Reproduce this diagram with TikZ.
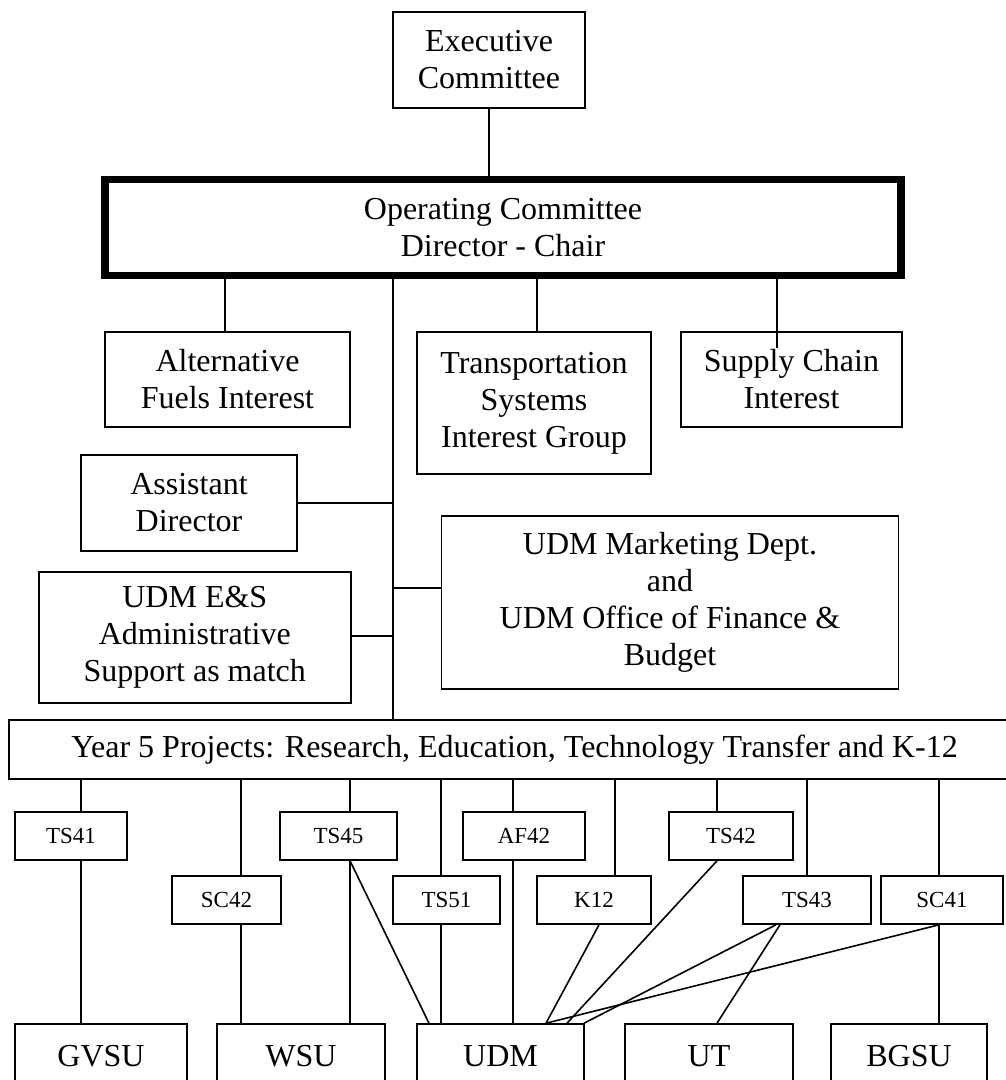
\documentclass[tikz,border=0pt]{standalone}
\usepackage{fontspec}
\setmainfont{Liberation Serif}
\begin{document}
\begin{tikzpicture}[x=1pt,y=-1pt,
  box/.style={draw,line width=1.6pt,inner sep=0pt,align=center,font=\fontsize{32}{37}\selectfont},
  sbox/.style={draw,line width=1.6pt,inner sep=0pt,minimum height=48,font=\fontsize{23}{27}\selectfont},
  conn/.style={line width=1.6pt}]
\useasboundingbox (0,0) rectangle (1006,1080);
% upper part
\node[box,minimum width=192,minimum height=96] (exec) at (489,60) {Executive\\Committee};
\node[box,line width=7.5pt,minimum width=796,minimum height=96] (op) at (503,227.5) {Operating Committee\\Director - Chair};
\node[box,minimum width=245,minimum height=95] (alt) at (227.5,379.5) {Alternative\\Fuels Interest};
\node[box,minimum width=234,minimum height=142] (ts) at (534,403) {Transportation\\Systems\\Interest Group};
\node[box,minimum width=221,minimum height=95] (sc) at (791.5,379.5) {Supply Chain\\Interest};
\node[box,minimum width=216,minimum height=96] (asst) at (189,503) {Assistant\\Director};
\node[box,minimum width=457,minimum height=173] (mkt) at (670,602.5) {UDM Marketing Dept.\\and\\UDM Office of Finance \&\\Budget};
\node[box,minimum width=312,minimum height=131] (es) at (194.8,637.5) {UDM E\&S\\Administrative\\Support as match};
\node[box,minimum width=1011,minimum height=59] (y5) at (514.5,749.5) {Year 5 Projects: Research, Education, Technology Transfer and K-12};
% project boxes
\node[sbox,minimum width=112] (ts41) at (71,836) {TS41};
\node[sbox,minimum width=109] (sc42) at (226.5,900) {SC42};
\node[sbox,minimum width=117] (ts45) at (338.5,836) {TS45};
\node[sbox,minimum width=107] (ts51) at (446.5,900) {TS51};
\node[sbox,minimum width=122] (af42) at (524,836) {AF42};
\node[sbox,minimum width=114] (k12) at (594,900) {K12};
\node[sbox,minimum width=124] (ts42) at (731,836) {TS42};
\node[sbox,minimum width=128] (ts43) at (807,900) {TS43};
\node[sbox,minimum width=122] (sc41) at (942,900) {SC41};
% universities
\node[box,minimum width=172,minimum height=64] (gvsu) at (101,1056) {GVSU};
\node[box,minimum width=168,minimum height=64] (wsu) at (301,1056) {WSU};
\node[box,minimum width=167,minimum height=64] (udm) at (500.5,1056) {UDM};
\node[box,minimum width=168,minimum height=64] (ut) at (709,1056) {UT};
\node[box,minimum width=156,minimum height=64] (bgsu) at (909,1056) {BGSU};
% upper connectors
\draw[conn] (exec.south) -- (exec.south |- op.north);
\coordinate (trunk) at (393,0);
\draw[conn] (op.south -| trunk) -- (y5.north -| trunk);
\coordinate (xalt) at (225,0);
\draw[conn] (op.south -| xalt) -- (alt.north -| xalt);
\coordinate (xts) at (537,0);
\draw[conn] (op.south -| xts) -- (ts.north -| xts);
\coordinate (scend) at (777,348);
\draw[conn] (op.south -| scend) -- (scend);
\draw[conn] (asst.east) -- (asst.east -| trunk);
\coordinate (ymkt) at (0,588);
\draw[conn] (mkt.west |- ymkt) -- (trunk |- ymkt);
\coordinate (yes) at (0,636);
\draw[conn] (es.east |- yes) -- (trunk |- yes);
% year 5 to projects
\foreach \n/\x in {ts41/81, sc42/241, ts45/350, ts51/441, af42/513, k12/615, ts42/717, ts43/807, sc41/939}{
  \coordinate (cx) at (\x,0);
  \draw[conn] (y5.south -| cx) -- (\n.north -| cx);
}
% projects to universities
\foreach \a/\xa/\b/\xb in {ts41/81/gvsu/81, sc42/241/wsu/241, ts45/350/wsu/350, ts45/350/udm/429,
  ts51/441/udm/441, af42/513/udm/513, k12/599/udm/546, ts42/717/udm/567, ts43/776/udm/584,
  ts43/780/ut/717, sc41/939/bgsu/939, sc41/939/udm/546}{
  \coordinate (sx) at (\xa,0);
  \coordinate (tx) at (\xb,0);
  \draw[conn] (\a.south -| sx) -- (\b.north -| tx);
}
\end{tikzpicture}
\end{document}
